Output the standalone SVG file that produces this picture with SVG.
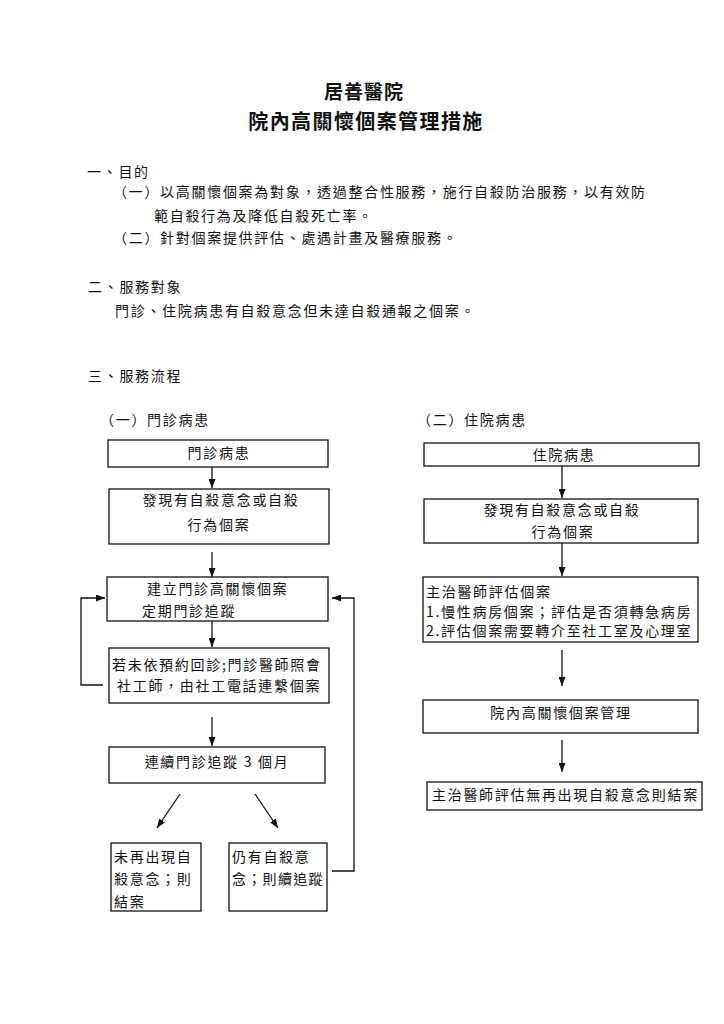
<svg xmlns="http://www.w3.org/2000/svg" width="724" height="1024" viewBox="0 0 724 1024">
<style>
  .t { font-family: "Noto Sans CJK TC", "Noto Sans CJK SC", sans-serif; font-size: 14px; letter-spacing: 1.7px; fill: #111; }
  .c { text-anchor: middle; }
  .h1 { font-family: "Noto Sans CJK TC", "Noto Sans CJK SC", sans-serif; font-weight: bold; fill: #111; text-anchor: middle; }
  .box { fill: #fff; stroke: #111; stroke-width: 1.3; }
  .ln { fill: none; stroke: #111; stroke-width: 1.3; }
</style>
<defs>
  <marker id="ah" viewBox="0 0 9 7" refX="9" refY="3.5" markerWidth="9" markerHeight="7" markerUnits="userSpaceOnUse" orient="auto">
    <path d="M0,0 L9,3.5 L0,7 z" fill="#111"/>
  </marker>
</defs>
<rect width="724" height="1024" fill="#fff"/>

<g id="header">
  <text class="h1" x="364" y="99" style="font-size:19px;letter-spacing:1px">居善醫院</text>
  <text class="h1" x="366" y="129" style="font-size:20px;letter-spacing:1.4px">院內高關懷個案管理措施</text>
  <text class="t" x="87" y="177">一、目的</text>
  <text class="t" x="113" y="197">（一）以高關懷個案為對象，透過整合性服務，施行自殺防治服務，以有效防</text>
  <text class="t" x="154" y="221">範自殺行為及降低自殺死亡率。</text>
  <text class="t" x="113" y="243">（二）針對個案提供評估、處遇計畫及醫療服務。</text>
  <text class="t" x="88" y="292">二、服務對象</text>
  <text class="t" x="115" y="316">門診、住院病患有自殺意念但未達自殺通報之個案。</text>
  <text class="t" x="88" y="381">三、服務流程</text>
  <text class="t" x="100" y="425">（一）門診病患</text>
  <text class="t" x="417" y="425">（二）住院病患</text>
</g>

<g id="connectors">
  <path class="ln" d="M212,467 V488" marker-end="url(#ah)"/>
  <path class="ln" d="M212,552 V577" marker-end="url(#ah)"/>
  <path class="ln" d="M212,621 V647" marker-end="url(#ah)"/>
  <path class="ln" d="M212,717 V746" marker-end="url(#ah)"/>
  <path class="ln" d="M180,794 L157,828" marker-end="url(#ah)"/>
  <path class="ln" d="M255,794 L278,828" marker-end="url(#ah)"/>
  <path class="ln" d="M103,685 H81 V598 H105" marker-end="url(#ah)"/>
  <path class="ln" d="M332,871 H354 V598 H332" marker-end="url(#ah)"/>
  <path class="ln" d="M562,466 V498" marker-end="url(#ah)"/>
  <path class="ln" d="M562,543 V576" marker-end="url(#ah)"/>
  <path class="ln" d="M562,650 V686" marker-end="url(#ah)"/>
  <path class="ln" d="M562,740 V772" marker-end="url(#ah)"/>
</g>

<g id="op-patient">
  <rect class="box" x="108" y="440" width="220" height="27"/>
  <text class="t c" x="219" y="458">門診病患</text>
</g>
<g id="op-detect">
  <rect class="box" x="109" y="489" width="220" height="55"/>
  <text class="t c" x="221" y="505">發現有自殺意念或自殺</text>
  <text class="t c" x="219" y="530">行為個案</text>
</g>
<g id="op-establish">
  <rect class="box" x="107" y="577" width="221" height="44"/>
  <text class="t" x="147" y="594">建立門診高關懷個案</text>
  <text class="t" x="142" y="616">定期門診追蹤</text>
</g>
<g id="op-noshow">
  <rect class="box" x="109" y="648" width="220" height="55"/>
  <text class="t" x="112" y="670">若未依預約回診;門診醫師照會</text>
  <text class="t" x="117" y="691">社工師，由社工電話連繫個案</text>
</g>
<g id="op-followup">
  <rect class="box" x="109" y="747" width="216" height="36"/>
  <text class="t c" x="217" y="767">連續門診追蹤 3 個月</text>
</g>
<g id="op-close">
  <rect class="box" x="111" y="843" width="90" height="68"/>
  <text class="t" x="114" y="862">未再出現自</text>
  <text class="t" x="114" y="884">殺意念；則</text>
  <text class="t" x="114" y="907">結案</text>
</g>
<g id="op-continue">
  <rect class="box" x="229" y="843" width="98" height="68"/>
  <text class="t" x="232" y="862">仍有自殺意</text>
  <text class="t" x="232" y="884" style="letter-spacing:1.3px">念；則續追蹤</text>
</g>

<g id="ip-patient">
  <rect class="box" x="424" y="443" width="275" height="23"/>
  <text class="t c" x="564" y="460">住院病患</text>
</g>
<g id="ip-detect">
  <rect class="box" x="424" y="499" width="274" height="44"/>
  <text class="t c" x="562" y="515">發現有自殺意念或自殺</text>
  <text class="t c" x="563" y="537">行為個案</text>
</g>
<g id="ip-assess">
  <rect class="box" x="423" y="577" width="275" height="65"/>
  <text class="t" x="426" y="597">主治醫師評估個案</text>
  <text class="t" x="426" y="617">1.慢性病房個案；評估是否須轉急病房</text>
  <text class="t" x="426" y="636">2.評估個案需要轉介至社工室及心理室</text>
</g>
<g id="ip-manage">
  <rect class="box" x="423" y="700" width="275" height="33"/>
  <text class="t c" x="561" y="718">院內高關懷個案管理</text>
</g>
<g id="ip-close">
  <rect class="box" x="427" y="782" width="275" height="28"/>
  <text class="t" x="432" y="800">主治醫師評估無再出現自殺意念則結案</text>
</g>
</svg>
